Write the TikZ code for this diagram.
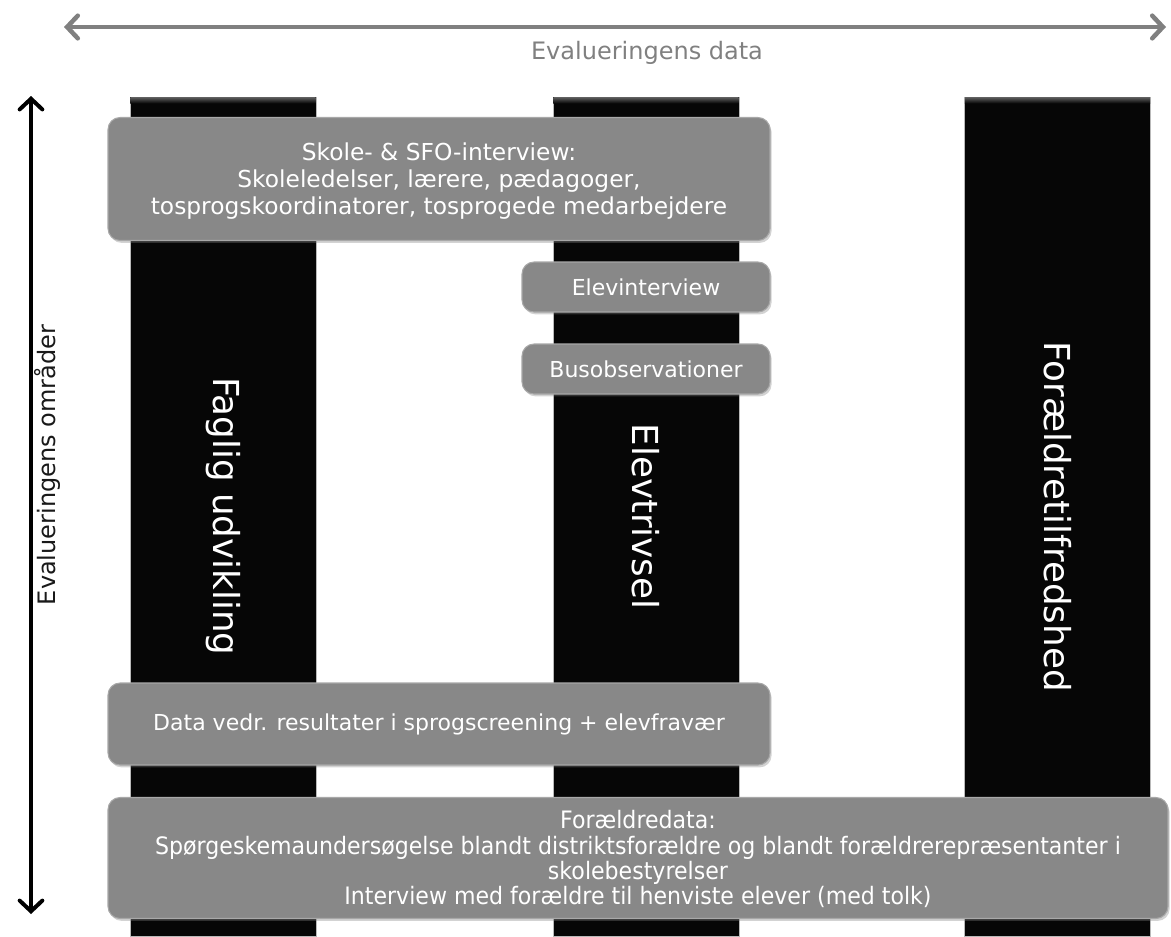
\documentclass[tikz,border=0pt]{standalone}
\usepackage{fontspec}
\setmainfont{DejaVu Sans}
\newfontfamily\condfont[FakeStretch=0.92]{DejaVu Sans}
\usetikzlibrary{arrows.meta,shadows}
\definecolor{boxgray}{HTML}{888888}
\definecolor{boxedge}{HTML}{A8A8A8}
\definecolor{axisgray}{HTML}{808080}
\definecolor{colblack}{HTML}{060606}
\newcommand{\lowerlines}[3]{\raisebox{-#1}[\height][\depth]{\renewcommand{\arraystretch}{#2}\begin{tabular}{@{}c@{}}#3\end{tabular}}}
\begin{document}
\begin{tikzpicture}[x=0.75pt,y=-0.75pt,
  colbox/.style={fill=colblack, draw=gray!55, line width=0.6pt, rotate=-90,
    minimum width=629.25pt, minimum height=139.5pt, inner sep=0pt,
    text=white, font=\fontsize{26.8}{30}\selectfont},
  gbox/.style={rounded corners=9pt, fill=boxgray, draw=boxedge, line width=0.8pt,
    text=white, align=center, inner sep=0pt,
    drop shadow={shadow xshift=1.2pt, shadow yshift=-1.8pt, opacity=0.35},
    font=\fontsize{16.5}{19.5}\selectfont},
  barb/.style={line cap=round, line join=round,
    {Straight Barb[length=8pt,width=17pt,line cap=round]}-{Straight Barb[length=8pt,width=17pt,line cap=round]}}
]
\useasboundingbox (0,0) rectangle (1171,936);

% axes
\coordinate (hl) at (64,27);
\coordinate (hr) at (1166,27);
\draw[barb, axisgray, line width=3.4pt] (hl) -- (hr);
\node[text=axisgray, font=\fontsize{18}{20}\selectfont] (dlab) at (647,53) {Evalueringens data};

\coordinate (vt) at (31,96);
\coordinate (vb) at (31,914);
\draw[barb, black, line width=3pt] (vt) -- (vb);
\node[rotate=90, text=black!90, font=\fontsize{18}{20}\selectfont] (olab) at (47,465) {Evalueringens områder};

% columns
\node[colbox] (c1) at (223,516.5) {Faglig udvikling};
\node[colbox] (c2) at (646,516.5) {Elevtrivsel};
\node[colbox] (c3) at (1057.5,516.5) {Forældretilfredshed};
\foreach \c in {c1,c2,c3}{
  \fill[top color=gray!75!black, bottom color=colblack]
    ([xshift=0.5pt,yshift=-0.4pt]\c.south west) rectangle ([xshift=-0.5pt,yshift=-5pt]\c.north west);
}

% boxes
\node[gbox, minimum width=496.5pt, minimum height=92.25pt,
  font=\fontsize{17.5}{20}\selectfont] (b1) at (439,179)
  {\lowerlines{2.3pt}{1}{Skole- \& SFO-interview:\\Skoleledelser, lærere, pædagoger,\\tosprogskoordinatorer, tosprogede medarbejdere}};
\node[gbox, minimum width=186pt, minimum height=37.5pt] (b2) at (646,287) {Elevinterview};
\node[gbox, minimum width=186pt, minimum height=37.5pt] (b3) at (646,369) {Busobservationer};
\node[gbox, minimum width=496.5pt, minimum height=61.5pt] (b4) at (439,724)
  {Data vedr. resultater i sprogscreening + elevfravær};
\node[gbox, minimum width=795pt, minimum height=90.75pt,
  font=\condfont\fontsize{18}{18.5}\selectfont] (b5) at (638,858)
  {\lowerlines{2.5pt}{0.96}{Forældredata:\\Spørgeskemaundersøgelse blandt distriktsforældre og blandt forældrerepræsentanter i\\skolebestyrelser\\Interview med forældre til henviste elever (med tolk)}};
\end{tikzpicture}
\end{document}
